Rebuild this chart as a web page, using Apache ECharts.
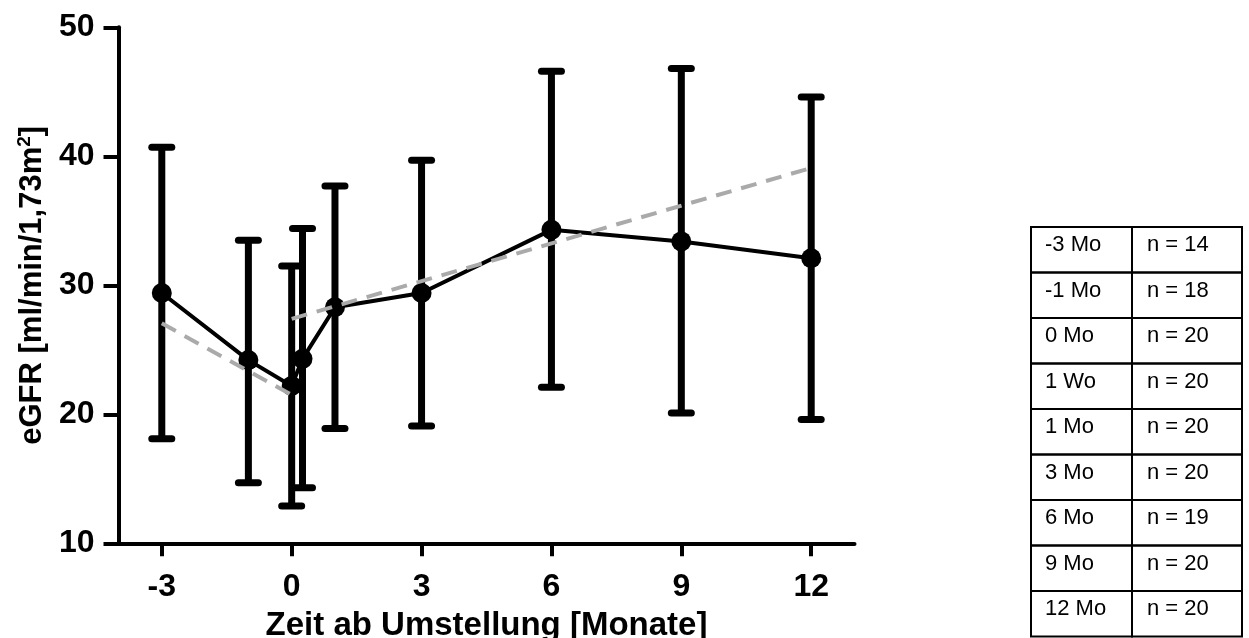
<!DOCTYPE html>
<html>
<head>
<meta charset="utf-8">
<title>eGFR</title>
<script src="https://cdn.jsdelivr.net/npm/echarts@6/dist/echarts.min.js"></script>
<style>
  html, body { margin: 0; padding: 0; background: #fff; }
  #main { width: 1249px; height: 638px; }
</style>
</head>
<body>
<div id="main"></div>
<script type="text/javascript">
// Zeitpunkte in Monaten (1 Wo = 0.25)
var monthX = [-3, -1, 0, 0.25, 1, 3, 6, 9, 12];
var meanVals = [29.4, 24.2, 22.2, 24.3, 28.3, 29.4, 34.3, 33.4, 32.1];
var upperVals = [40.7, 33.5, 31.5, 34.4, 37.7, 39.7, 46.6, 46.8, 44.6];
var lowerVals = [18.1, 14.7, 12.9, 14.3, 18.9, 19.1, 22.1, 20.1, 19.6];

// lineare Trends vor / nach Umstellung
var trendBeforeX = [-3, 0];
var trendBeforeY = [27.05, 21.5];
var trendAfterX = [0, 12];
var trendAfterY = [27.4, 39.1];

var xTicks = [-3, 0, 3, 6, 9, 12];

// Tabelle rechts
var tableLabels = ['-3 Mo', '-1 Mo', '0 Mo', '1 Wo', '1 Mo', '3 Mo', '6 Mo', '9 Mo', '12 Mo'];
var tableN = [14, 18, 20, 20, 20, 20, 19, 20, 20];

var font = '"Liberation Sans", Arial, Helvetica, sans-serif';

function pairs(xs, ys) {
  var out = [];
  for (var i = 0; i < xs.length; i++) out.push([xs[i], ys[i]]);
  return out;
}

var errData = [];
for (var i = 0; i < monthX.length; i++) {
  errData.push([monthX[i], lowerVals[i], upperVals[i]]);
}

// Tabelle als graphic
var tLeft = 1031, tMid = 1132, tRight = 1242, tTop = 227, rowH = 45.5;
var tableEls = [];
for (var r = 0; r < tableLabels.length; r++) {
  var y0 = tTop + r * rowH;
  tableEls.push({
    type: 'rect',
    shape: { x: tLeft, y: y0, width: tMid - tLeft, height: rowH },
    style: { fill: 'none', stroke: '#000', lineWidth: 2 }
  });
  tableEls.push({
    type: 'rect',
    shape: { x: tMid, y: y0, width: tRight - tMid, height: rowH },
    style: { fill: 'none', stroke: '#000', lineWidth: 2 }
  });
  tableEls.push({
    type: 'text', x: tLeft + 14, y: y0 + 18,
    style: { text: tableLabels[r], font: '22px ' + font, fill: '#000', verticalAlign: 'middle' }
  });
  tableEls.push({
    type: 'text', x: tMid + 15, y: y0 + 18,
    style: { text: 'n = ' + tableN[r], font: '22px ' + font, fill: '#000', verticalAlign: 'middle' }
  });
}

var myChart = echarts.init(document.getElementById('main'));

var option = {
  backgroundColor: '#fff',
  animation: false,
  grid: {
    left: 118.5, right: 394.5, top: 27.3, bottom: 94.7,
    containLabel: false, outerBoundsMode: 'none'
  },
  xAxis: {
    type: 'value',
    min: -4,
    max: 13,
    name: 'Zeit ab Umstellung [Monate]',
    nameLocation: 'middle',
    nameGap: 66,
    nameTextStyle: { fontFamily: font, fontWeight: 'bold', fontSize: 33, color: '#000' },
    splitLine: { show: false },
    axisLine: { onZero: false, lineStyle: { color: '#000', width: 4 } },
    axisTick: { customValues: xTicks, length: 13, lineStyle: { color: '#000', width: 4 } },
    axisLabel: {
      customValues: xTicks, margin: 28,
      fontFamily: font, fontWeight: 'bold', fontSize: 32, color: '#000'
    }
  },
  yAxis: {
    type: 'value',
    min: 10,
    max: 50,
    interval: 10,
    name: 'eGFR [ml/min/1,73m{sup|2}]',
    nameLocation: 'middle',
    nameGap: 70,
    nameRotate: 90,
    nameTextStyle: {
      fontFamily: font, fontWeight: 'bold', fontSize: 31, color: '#000',
      rich: { sup: { fontFamily: font, fontWeight: 'bold', fontSize: 19, color: '#000', verticalAlign: 'top', padding: [0, 0, 14, 0] } }
    },
    splitLine: { show: false },
    axisLine: { onZero: false, lineStyle: { color: '#000', width: 4 } },
    axisTick: { length: 15, lineStyle: { color: '#000', width: 4 } },
    axisLabel: { margin: 24, fontFamily: font, fontWeight: 'bold', fontSize: 32, color: '#000' }
  },
  series: [
    {
      type: 'custom',
      name: 'SD',
      z: 2,
      data: errData,
      renderItem: function (params, api) {
        var x = api.value(0);
        var lo = api.coord([x, api.value(1)]);
        var hi = api.coord([x, api.value(2)]);
        var hw = 10;
        return {
          type: 'group',
          children: [
            { type: 'line', shape: { x1: hi[0], y1: hi[1], x2: lo[0], y2: lo[1] },
              style: { stroke: '#000', lineWidth: 7 } },
            { type: 'line', shape: { x1: hi[0] - hw, y1: hi[1], x2: hi[0] + hw, y2: hi[1] },
              style: { stroke: '#000', lineWidth: 7, lineCap: 'round' } },
            { type: 'line', shape: { x1: lo[0] - hw, y1: lo[1], x2: lo[0] + hw, y2: lo[1] },
              style: { stroke: '#000', lineWidth: 7, lineCap: 'round' } }
          ]
        };
      }
    },
    {
      type: 'line',
      name: 'eGFR',
      z: 3,
      data: pairs(monthX, meanVals),
      symbol: 'circle',
      symbolSize: 20,
      itemStyle: { color: '#000' },
      lineStyle: { color: '#000', width: 4 }
    },
    {
      type: 'line',
      z: 4,
      data: pairs(trendBeforeX, trendBeforeY),
      symbol: 'none',
      lineStyle: { color: '#aaaaaa', width: 4, type: [16, 10] }
    },
    {
      type: 'line',
      z: 4,
      data: pairs(trendAfterX, trendAfterY),
      symbol: 'none',
      lineStyle: { color: '#aaaaaa', width: 4, type: [16, 10] }
    }
  ],
  graphic: tableEls
};

myChart.setOption(option);
</script>
</body>
</html>
